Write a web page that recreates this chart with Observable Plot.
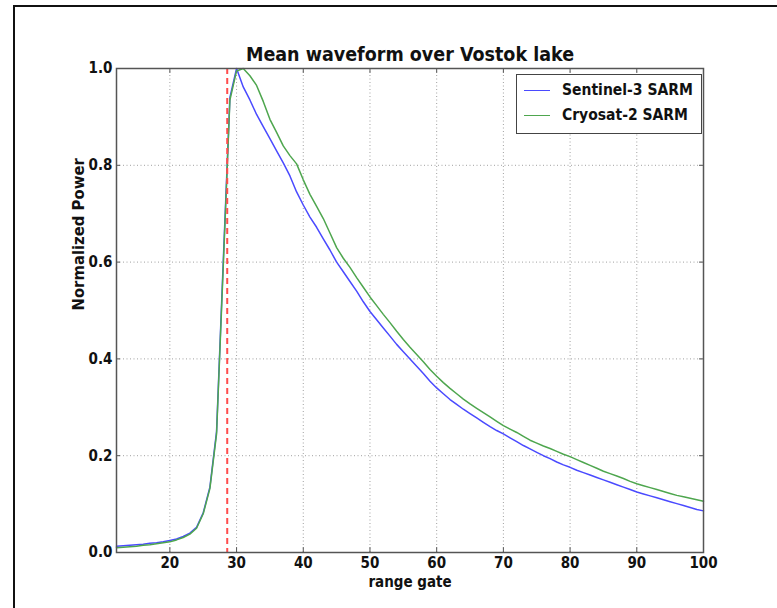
<!DOCTYPE html>
<html><head><meta charset="utf-8">
<script src="https://cdn.jsdelivr.net/npm/d3@7"></script>
<script src="https://cdn.jsdelivr.net/npm/@observablehq/plot@0.6"></script>
<style>
body{margin:0;background:#fff;}
#wrap{position:relative;width:777px;height:608px;overflow:hidden;font-family:"DejaVu Sans Condensed","DejaVu Sans",sans-serif;font-weight:bold;font-stretch:condensed;}
#outer{position:absolute;left:13px;top:5px;width:900px;height:900px;border-left:2px solid #111;border-top:2px solid #111;pointer-events:none;}
#legend{position:absolute;left:516px;top:74px;width:184px;height:58px;border:1px solid #444;background:#fff;font-size:15.5px;color:#111;}
.row{position:absolute;left:0;height:20px;display:flex;align-items:center;}
.sw{display:inline-block;width:26px;height:0;border-top:1.6px solid;margin-left:7px;margin-right:12px;}
</style></head>
<body>
<div id="wrap"><div id="outer"></div></div>
<script>
const title = "Mean waveform over Vostok lake";
const xLabel = "range gate";
const yLabel = "Normalized Power";
const seriesNames = ["Sentinel-3 SARM", "Cryosat-2 SARM"];
const seriesColors = ["#4a4aff", "#4ea64e"];
const xTicks = [20, 30, 40, 50, 60, 70, 80, 90, 100];
const yTicks = [0, 0.2, 0.4, 0.6, 0.8, 1.0];
const markerGate = 28.6;
const gates = d3.range(12, 101);
const sentinel3 = [
0.013,0.014,0.015,0.016,0.017,0.019,0.020,0.022,0.025,0.028,
0.033,0.040,0.052,0.082,0.135,0.250,0.600,0.940,1.000,0.962,
0.935,0.905,0.880,0.855,0.830,0.805,0.778,0.745,0.718,0.693,
0.672,0.648,0.625,0.600,0.580,0.560,0.540,0.518,0.498,0.481,
0.464,0.447,0.430,0.415,0.400,0.385,0.370,0.354,0.340,0.328,
0.316,0.306,0.296,0.287,0.278,0.269,0.260,0.252,0.245,0.237,
0.229,0.221,0.214,0.207,0.200,0.194,0.187,0.181,0.176,0.170,
0.165,0.160,0.155,0.150,0.145,0.140,0.135,0.130,0.125,0.121,
0.117,0.113,0.109,0.105,0.101,0.097,0.093,0.089,0.086];
const cryosat2 = [
0.010,0.011,0.012,0.013,0.015,0.016,0.018,0.020,0.022,0.026,
0.031,0.038,0.050,0.080,0.132,0.245,0.590,0.935,0.995,1.000,
0.985,0.965,0.932,0.895,0.868,0.840,0.820,0.803,0.770,0.740,
0.715,0.690,0.660,0.630,0.608,0.589,0.568,0.548,0.528,0.510,
0.492,0.475,0.457,0.440,0.424,0.409,0.394,0.378,0.364,0.351,
0.339,0.328,0.317,0.307,0.298,0.289,0.280,0.271,0.262,0.255,
0.248,0.240,0.232,0.226,0.220,0.215,0.209,0.203,0.198,0.192,
0.186,0.180,0.174,0.168,0.163,0.158,0.153,0.147,0.142,0.138,
0.134,0.130,0.126,0.122,0.118,0.115,0.112,0.109,0.106];

const rows = [];
gates.forEach((g, i) => {
  rows.push({gate: g, power: sentinel3[i], series: seriesNames[0]});
});
gates.forEach((g, i) => {
  rows.push({gate: g, power: cryosat2[i], series: seriesNames[1]});
});

const gridStyle = {stroke: "#a0a0a0", strokeDasharray: "1,2.5", strokeWidth: 1};
const chart = Plot.plot({
  width: 777, height: 608,
  marginLeft: 116, marginRight: 74, marginTop: 68, marginBottom: 56,
  style: {fontFamily: '"DejaVu Sans Condensed","DejaVu Sans",sans-serif', fontWeight: "bold", fontSize: "15px", color: "#111", background: "transparent"},
  x: {domain: [12, 100]},
  y: {domain: [0, 1]},
  color: {domain: seriesNames, range: seriesColors},
  marks: [
    Plot.ruleX(xTicks, {...gridStyle}),
    Plot.ruleY(yTicks, {...gridStyle}),
    Plot.ruleX(xTicks, {y1: 0, y2: 0.01, stroke: "#555"}),
    Plot.ruleX(xTicks, {y1: 0.99, y2: 1, stroke: "#555"}),
    Plot.ruleY(yTicks, {x1: 12, x2: 12.6, stroke: "#555"}),
    Plot.ruleY(yTicks, {x1: 99.4, x2: 100, stroke: "#555"}),
    Plot.line(rows, {x: "gate", y: "power", z: "series", stroke: "series", strokeWidth: 1.5}),
    Plot.ruleX([markerGate], {stroke: "#ff4d4d", strokeWidth: 2, strokeDasharray: "6,4"}),
    Plot.frame({stroke: "#555", strokeWidth: 1.5}),
    Plot.axisX({ticks: xTicks, tickSize: 0, tickPadding: 5, tickFormat: d => String(d),
      label: xLabel, labelAnchor: "center", labelArrow: "none", labelOffset: 34, fontSize: 15}),
    Plot.axisY({ticks: yTicks, tickSize: 0, tickPadding: 4, tickFormat: d3.format(".1f"), label: null, fontSize: 15}),
    Plot.text([yLabel], {frameAnchor: "left", dx: -38, rotate: -90, fontSize: 16.5, fontWeight: "bold", fill: "#111"}),
    Plot.text([title], {frameAnchor: "top", lineAnchor: "middle", dy: -14, fontSize: 19.5, fontWeight: "bold", fill: "#111"})
  ]
});
chart.style.position = "absolute";
chart.style.left = "0px";
chart.style.top = "0px";
const wrap = document.getElementById("wrap");
wrap.insertBefore(chart, wrap.firstChild);

const legend = document.createElement("div");
legend.id = "legend";
seriesNames.forEach((name, i) => {
  const row = document.createElement("div");
  row.className = "row";
  row.style.top = (5 + i * 25) + "px";
  const sw = document.createElement("span");
  sw.className = "sw";
  sw.style.borderTopColor = seriesColors[i];
  const tx = document.createElement("span");
  tx.textContent = name;
  row.appendChild(sw); row.appendChild(tx);
  legend.appendChild(row);
});
wrap.appendChild(legend);
</script>
</body></html>
